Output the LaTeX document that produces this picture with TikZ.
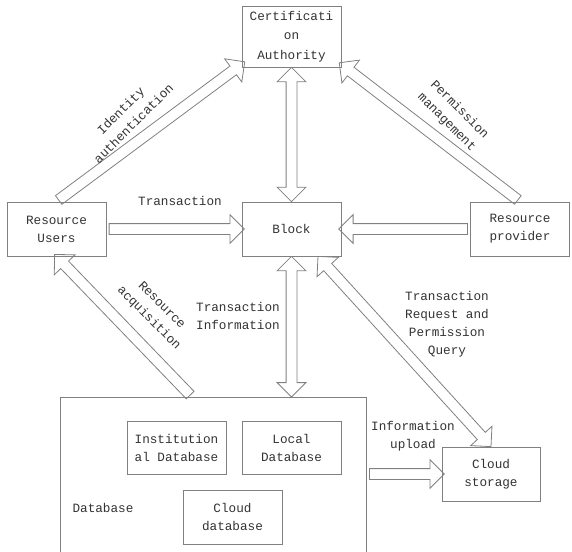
\documentclass[tikz,border=0pt]{standalone}
\usepackage{fontspec}
\setmainfont{Liberation Mono}
\usetikzlibrary{shapes.arrows,calc}

\newcommand\fatarrow[3][single arrow]{%
  \path let \p1=($(#3)-(#2)$), \n1={atan2(\y1,\x1)}, \n2={veclen(\x1,\y1)} in
    node[fat,#1,minimum height=\n2,rotate=\n1] at ($(#2)!0.5!(#3)$) {};}

\begin{document}
\begin{tikzpicture}[x=0.75pt,y=-0.75pt]
\tikzstyle{every node}=[font=\fontsize{9.5}{13.5}\selectfont, text=black!80]
\tikzstyle{box}=[draw=black!50, line width=0.6pt, minimum width=74.25pt, minimum height=40.5pt, align=center, inner sep=1pt]
\tikzstyle{fat}=[draw=black!50, line width=0.6pt, inner sep=3.75pt, single arrow head extend=6.75pt, double arrow head extend=6.75pt]
\tikzstyle{tag}=[align=center, inner sep=0pt]
\useasboundingbox (0,0) rectangle (572,551);
\clip (0,0) rectangle (572,551);

\node[box, minimum height=45.75pt, font=\fontsize{9.5}{14.5}\selectfont] (ca) at (291.5,36.5) {Certificati\\on\\Authority};
\node[box] (users) at (56.5,229) {Resource\\Users};
\node[box] (block) at (291.5,229) {Block};
\node[box] (prov) at (520,229) {Resource\\provider};
\node[box, anchor=north west, minimum width=229.5pt, minimum height=127.5pt] (db) at (60,397) {};
\node[box, minimum height=39.75pt] (inst) at (176.5,447.5) {Institution\\al Database};
\node[box, minimum height=39.75pt] (local) at (291.5,447.5) {Local\\Database};
\node[box] (clouddb) at (232.5,517) {Cloud\\database};
\node[box, minimum width=73.5pt] (cs) at (491,474) {Cloud\\storage};

\coordinate (caL) at ($(ca.south west)+(1,-4)$);
\coordinate (caR) at ($(ca.south east)+(0,-3)$);
\coordinate (dbT) at ($(db.north west)+(132,0)$);
\coordinate (dbB) at (block.south |- db.north);
\coordinate (dbR) at (db.east |- cs.west);
\coordinate (blkR) at ($(block.south)+(26.5,0)$);

\fatarrow{users.north}{caL}
\fatarrow{prov.north}{caR}
\fatarrow[double arrow]{ca.south}{block.north}
\fatarrow{users.east}{block.west}
\fatarrow{prov.west}{block.east}
\fatarrow{dbT}{users.south}
\fatarrow[double arrow]{block.south}{dbB}
\fatarrow[double arrow]{blkR}{cs.north}
\fatarrow{dbR}{cs.west}

\node[tag, rotate=45] (idlbl) at (127,117) {Identity\\authentication};
\node[tag, rotate=-45] (pmlbl) at (453,116) {Permission\\management};
\node[tag, rotate=-45] (ralbl) at (155,312) {Resource\\acquisition};
\node[tag] (trlbl) at (180,201) {Transaction};
\node[tag] (tilbl) at (238,316) {Transaction\\Information};
\node[tag] (rqlbl) at (447,324) {Transaction\\Request and\\Permission\\Query};
\node[tag] (uplbl) at (413,436) {Information\\upload};
\node[tag] (dblbl) at (103,508) {Database};
\end{tikzpicture}
\end{document}
